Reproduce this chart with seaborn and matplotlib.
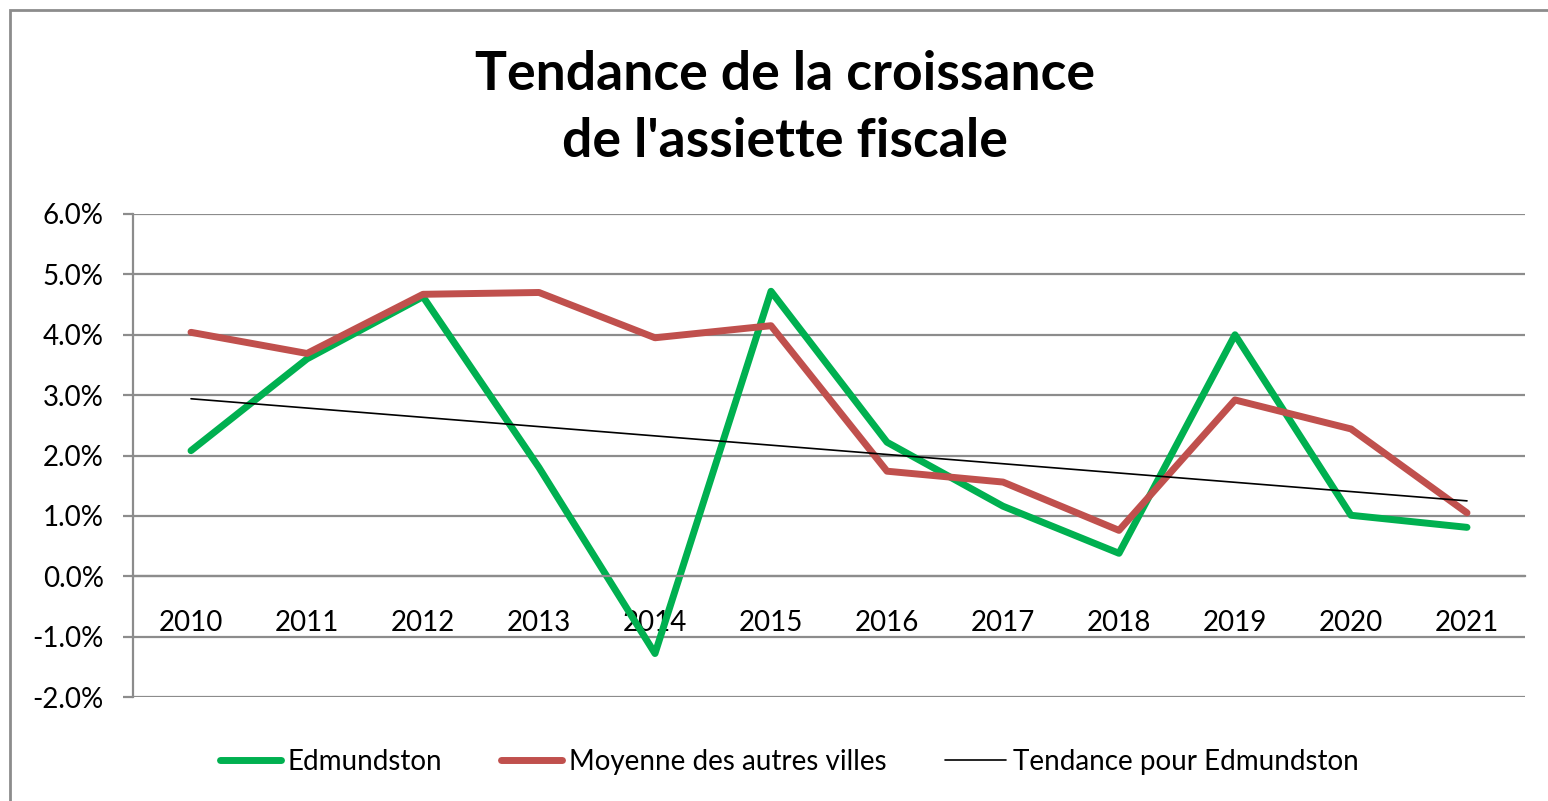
import matplotlib
matplotlib.use("Agg")
import matplotlib.pyplot as plt
from matplotlib.patches import Rectangle
from matplotlib.lines import Line2D
from matplotlib.ticker import FixedLocator, FuncFormatter
import seaborn as sns
import pandas as pd
import numpy as np

years = ["2010", "2011", "2012", "2013", "2014", "2015",
         "2016", "2017", "2018", "2019", "2020", "2021"]
edmundston = [2.08, 3.60, 4.63, 1.80, -1.28, 4.72, 2.22, 1.16, 0.38, 4.00, 1.01, 0.81]
moyenne = [4.04, 3.69, 4.67, 4.70, 3.95, 4.15, 1.74, 1.56, 0.76, 2.92, 2.44, 1.05]
y_ticks = [-2, -1, 0, 1, 2, 3, 4, 5, 6]

sns.set_theme(style="white")
plt.rcParams['font.family'] = ['Lato', 'DejaVu Sans']
plt.rcParams['text.color'] = 'black'

# linear trend of Edmundston (as Excel's trendline)
idx = np.arange(len(years))
coef = np.polyfit(idx, edmundston, 1)
trend = np.polyval(coef, idx)

df = pd.DataFrame({
    'pos': np.tile(idx, 3),
    'value': np.concatenate([edmundston, moyenne, trend]),
    'Série': (["Edmundston"] * len(years) + ["Moyenne des autres villes"] * len(years)
              + ["Tendance pour Edmundston"] * len(years)),
})

W, H = 1548, 801
fig = plt.figure(figsize=(W / 100, H / 100), dpi=100)
ax = fig.add_axes([133 / W, 1 - 697 / H, (1525 - 133) / W, (697 - 214) / H])

# outer chart frame (right/bottom cut off in the original)
fig.patches.append(Rectangle((10 / W, -0.1), 1.2, 1 - 10 / H + 0.1,
                             transform=fig.transFigure, fill=False,
                             edgecolor="#8c8c8c", linewidth=2))

palette = {"Edmundston": "#00B050", "Moyenne des autres villes": "#C0504D",
           "Tendance pour Edmundston": "black"}
sizes = {"Edmundston": 5, "Moyenne des autres villes": 5, "Tendance pour Edmundston": 1.2}
sns.lineplot(data=df, x='pos', y='value', hue='Série', size='Série', sizes=sizes,
             palette=palette, ax=ax, legend=False, solid_capstyle='round',
             solid_joinstyle='round')
ax.lines[0].set_zorder(2)
ax.lines[1].set_zorder(3)
ax.lines[2].set_zorder(4)

ax.set_xlim(-0.5, len(years) - 0.5)
ax.set_ylim(-2, 6)
ax.yaxis.set_major_locator(FixedLocator(y_ticks))
ax.yaxis.set_major_formatter(FuncFormatter(lambda v, p: f"{v:.1f}%"))
ax.grid(axis='y', color="#8c8c8c", linewidth=1.6)
ax.set_axisbelow(True)

ax.set_xticks(idx)
ax.set_xticklabels(years)
ax.set_xticks(np.arange(-0.5, len(years)), minor=True)
ax.tick_params(axis='x', which='major', length=0, pad=24.5, labelsize=20, labelcolor='black')
ax.tick_params(axis='x', which='minor', length=8, width=1.6, color="#8c8c8c", direction='out')
ax.tick_params(axis='y', which='major', length=7, width=1.6, color="#8c8c8c",
               direction='out', labelsize=20, pad=14, left=True, labelcolor='black')

ax.spines['bottom'].set_position(('data', 0))
ax.spines['bottom'].set_color("#8c8c8c")
ax.spines['bottom'].set_linewidth(1.6)
ax.spines['left'].set_color("#8c8c8c")
ax.spines['left'].set_linewidth(1.6)
ax.spines['top'].set_visible(False)
ax.spines['right'].set_visible(False)
ax.set_xlabel("")
ax.set_ylabel("")

fig.text(785 / W, 1 - 108 / H, "Tendance de la croissance\nde l'assiette fiscale",
         ha='center', va='center', fontsize=38.5, fontweight='bold', linespacing=1.45,
         color='black')

handles = [Line2D([], [], color=palette[k], linewidth=sizes[k], solid_capstyle='round')
           for k in palette]
fig.legend(handles, list(palette), loc='center', bbox_to_anchor=(789 / W, 1 - 762 / H),
           ncol=3, frameon=False, fontsize=20, handlelength=2.2, handletextpad=0.25,
           columnspacing=2.1)

fig.savefig("out.png", dpi=100)
